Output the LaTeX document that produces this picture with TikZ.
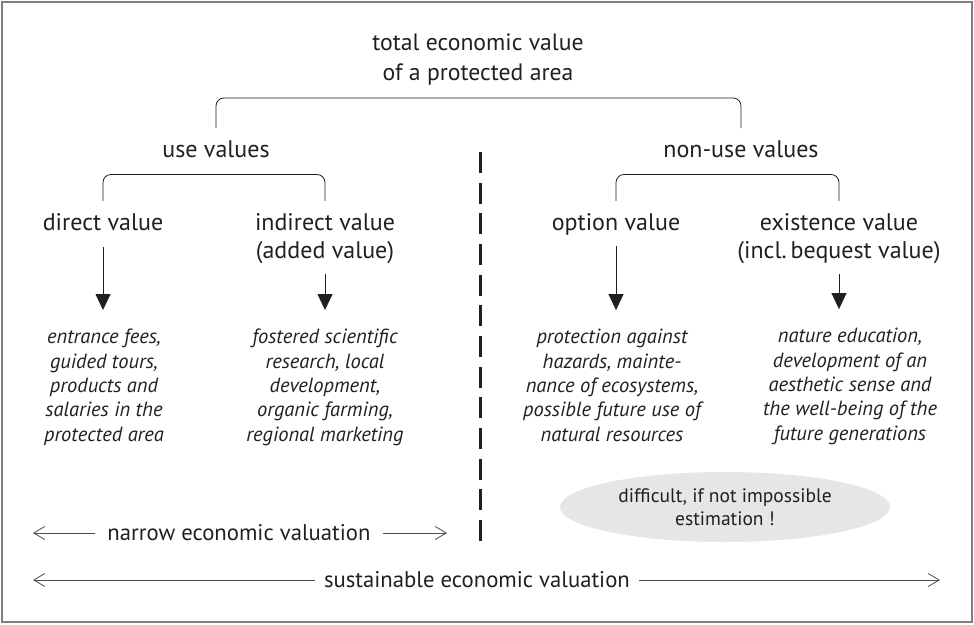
\documentclass[tikz,border=0pt]{standalone}
\usepackage{fontspec}
\setmainfont{PT Sans}
\usetikzlibrary{arrows.meta,shapes.geometric}
\definecolor{ellgray}{RGB}{230,230,230}
\definecolor{ink}{RGB}{35,31,32}

\tikzset{
	lbl/.style={font=\fontsize{24}{28}\selectfont, align=center, anchor=base, inner sep=0pt},
	expl/.style={font=\fontsize{20.5}{24.3}\selectfont\itshape, align=center, anchor=base, inner sep=0pt},
	brace/.style={rounded corners=8pt, line width=0.8pt},
	down/.style={-{Triangle[length=16pt,width=15pt]}, line width=0.8pt, shorten <=11pt, shorten >=19pt},
	valarr/.style={-{Straight Barb[length=11pt,width=13pt]}, line width=0.8pt, draw=black!70},
	valtxt/.style={font=\fontsize{22.7}{26}\selectfont},
}

\begin{document}
\begin{tikzpicture}[x=1pt,y=-1pt,color=ink]
		
		\useasboundingbox (0,0) rectangle (974,624);
		\draw[gray, line width=1.2pt] (2,2) rectangle (972,622);
		
		\node[lbl, font=\fontsize{23.7}{30}\selectfont] (top) at (478,80) {total economic value\\of a protected area};
		\node[lbl] (use) at (216,157) {use values};
		\node[lbl] (nonuse) at (741,157) {non-use values};
		
		\node[lbl] (direct) at (103,230) {direct value};
		\node[lbl] (indirect) at (325,258) {indirect value\\(added value)};
		\node[lbl] (option) at (616,230) {option value};
		\node[lbl] (exist) at (839,258) {existence value\\(incl.\,bequest value)};
		
		\node[expl] (dtxt) at (104,441) {entrance fees,\\guided tours,\\products and\\salaries in the\\protected area};
		\node[expl] (itxt) at (325,441) {fostered scientific\\research, local\\development,\\organic farming,\\regional marketing};
		\node[expl] (otxt) at (612,441) {protection against\\hazards, mainte-\\nance of ecosystems,\\possible future use of\\natural resources};
		\node[expl] (etxt) at (850,440) {nature education,\\development of an\\aesthetic sense and\\the well-being of the\\future generations};
		
		\draw[brace] ([yshift=12pt]use.north) |- ([yshift=-13pt]top.south) -| ([yshift=12pt]nonuse.north);
		\draw[brace] ([yshift=12pt]direct.north) |- ([yshift=-17pt]use.south) -| ([yshift=12pt]indirect.north);
		\draw[brace] ([yshift=12pt]option.north) |- ([yshift=-17pt]nonuse.south) -| ([yshift=12pt]exist.north);
		
		\draw[down, shorten <=17pt] (direct) -- (direct |- dtxt.north);
		\draw[down] (indirect) -- (indirect |- itxt.north);
		\draw[down] (option) -- (option |- otxt.north);
		\draw[down] (exist) -- (exist |- etxt.north);
		
		\draw[line width=3pt, dash pattern=on 21pt off 9.67pt] (480,152) -- (480,542);
		
		\node[ellipse, fill=ellgray, minimum width=330pt, minimum height=70pt, inner sep=0pt, align=center,
			font=\fontsize{19.5}{23}\selectfont] (hard) at (725,507) {difficult, if not impossible\\estimation !};
		
		\node[valtxt, inner xsep=12pt] (narrow) at (239,533) {narrow economic valuation};
		\coordinate (nl) at (33,533);
		\coordinate (nr) at (447,533);
		\draw[valarr] (narrow) -- (nl);
		\draw[valarr] (narrow) -- (nr);
		
		\node[valtxt, inner xsep=9pt] (sust) at (477,580) {sustainable economic valuation};
		\coordinate (sl) at (33,580);
		\coordinate (sr) at (940,580);
		\draw[valarr] (sust) -- (sl);
		\draw[valarr] (sust) -- (sr);
		\end{tikzpicture}
\end{document}
